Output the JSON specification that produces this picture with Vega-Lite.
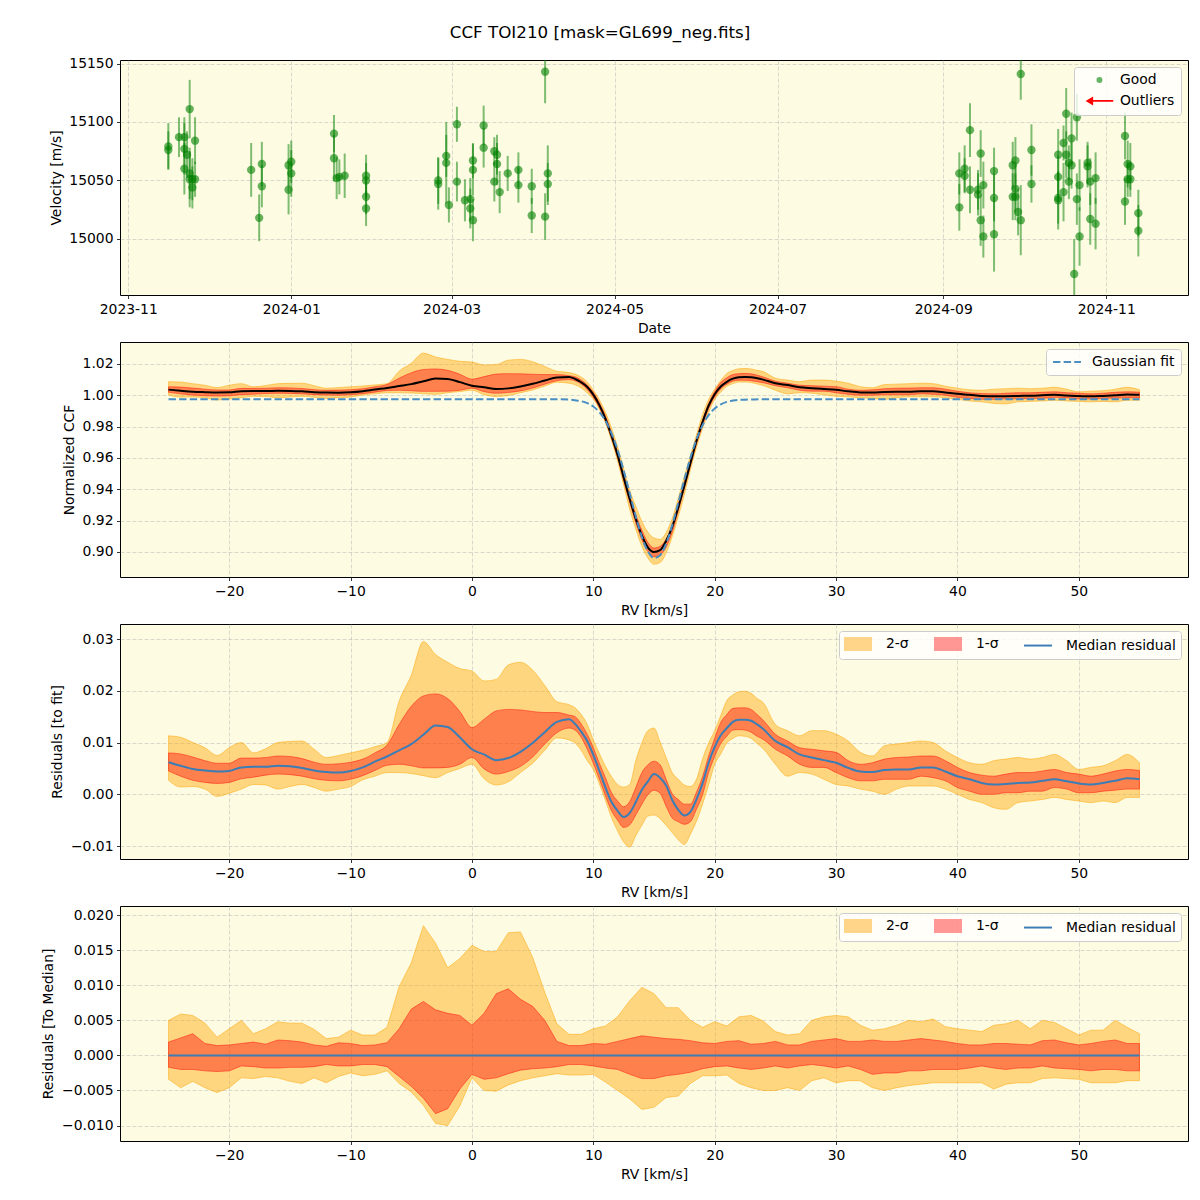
{
  "$schema": "https://vega.github.io/schema/vega-lite/v6.json",
  "padding": {"left": 41, "top": 25, "right": 5, "bottom": 5},
  "background": "white",
  "title": {"text": "CCF TOI210 [mask=GL699_neg.fits]", "fontSize": 16.7, "fontWeight": "normal", "font": "DejaVu Sans", "anchor": "middle", "offset": 14, "dx": -15, "color": "black"},
  "config": {
    "font": "DejaVu Sans",
    "view": {"fill": "#FDFBE2", "stroke": "black", "strokeWidth": 1},
    "axis": {"labelFont": "DejaVu Sans", "titleFont": "DejaVu Sans", "labelFontSize": 13.9, "titleFontSize": 13.9, "titleFontWeight": "normal", "labelColor": "black", "titleColor": "black", "tickColor": "black", "tickSize": 3.5, "tickWidth": 0.8, "labelPadding": 3.5, "titlePadding": 5.6, "domain": false, "grid": true, "gridColor": "#b0b0b0", "gridOpacity": 0.6, "gridDash": [4, 2], "gridWidth": 0.8, "labelFlush": false, "labelOverlap": false, "tickCount": 12},
    "legend": {"labelFont": "DejaVu Sans", "labelFontSize": 13.9, "labelColor": "black", "fillColor": "rgba(255,255,255,0.8)", "strokeColor": "#cccccc", "cornerRadius": 3, "orient": "top-right", "offset": 7, "padding": 6}
  },
  "datasets": {
    "rv": [
      {"d": "2023-11-16", "v": 15079, "e": 20}, {"d": "2023-11-16", "v": 15076, "e": 16}, {"d": "2023-11-20", "v": 15087, "e": 17},
      {"d": "2023-11-22", "v": 15077, "e": 22}, {"d": "2023-11-22", "v": 15087, "e": 17}, {"d": "2023-11-22", "v": 15060, "e": 22},
      {"d": "2023-11-23", "v": 15072, "e": 20}, {"d": "2023-11-24", "v": 15111, "e": 25}, {"d": "2023-11-24", "v": 15056, "e": 22},
      {"d": "2023-11-24", "v": 15051, "e": 24}, {"d": "2023-11-25", "v": 15051, "e": 18}, {"d": "2023-11-25", "v": 15044, "e": 18},
      {"d": "2023-11-26", "v": 15084, "e": 20}, {"d": "2023-11-26", "v": 15051, "e": 15},
      {"d": "2023-12-17", "v": 15059, "e": 23}, {"d": "2023-12-20", "v": 15018, "e": 20}, {"d": "2023-12-21", "v": 15064, "e": 19},
      {"d": "2023-12-21", "v": 15045, "e": 18}, {"d": "2023-12-31", "v": 15042, "e": 21}, {"d": "2023-12-31", "v": 15063, "e": 18},
      {"d": "2024-01-01", "v": 15056, "e": 20}, {"d": "2024-01-01", "v": 15066, "e": 18},
      {"d": "2024-01-17", "v": 15090, "e": 16}, {"d": "2024-01-17", "v": 15069, "e": 20}, {"d": "2024-01-18", "v": 15052, "e": 18},
      {"d": "2024-01-19", "v": 15053, "e": 15}, {"d": "2024-01-21", "v": 15054, "e": 19}, {"d": "2024-01-29", "v": 15054, "e": 18},
      {"d": "2024-01-29", "v": 15050, "e": 15}, {"d": "2024-01-29", "v": 15036, "e": 15}, {"d": "2024-01-29", "v": 15026, "e": 15},
      {"d": "2024-02-25", "v": 15050, "e": 20}, {"d": "2024-02-25", "v": 15047, "e": 22}, {"d": "2024-02-28", "v": 15071, "e": 18},
      {"d": "2024-02-28", "v": 15065, "e": 35}, {"d": "2024-02-29", "v": 15029, "e": 15}, {"d": "2024-03-03", "v": 15098, "e": 15},
      {"d": "2024-03-03", "v": 15049, "e": 17}, {"d": "2024-03-06", "v": 15033, "e": 18}, {"d": "2024-03-08", "v": 15034, "e": 18},
      {"d": "2024-03-08", "v": 15026, "e": 17}, {"d": "2024-03-09", "v": 15016, "e": 18}, {"d": "2024-03-09", "v": 15059, "e": 22},
      {"d": "2024-03-09", "v": 15067, "e": 15}, {"d": "2024-03-13", "v": 15097, "e": 17}, {"d": "2024-03-13", "v": 15078, "e": 17},
      {"d": "2024-03-17", "v": 15075, "e": 12}, {"d": "2024-03-18", "v": 15072, "e": 17}, {"d": "2024-03-18", "v": 15064, "e": 18},
      {"d": "2024-03-17", "v": 15049, "e": 17}, {"d": "2024-03-19", "v": 15040, "e": 18}, {"d": "2024-03-22", "v": 15056, "e": 15},
      {"d": "2024-03-26", "v": 15059, "e": 15}, {"d": "2024-03-26", "v": 15046, "e": 15}, {"d": "2024-03-31", "v": 15045, "e": 15},
      {"d": "2024-03-31", "v": 15020, "e": 15}, {"d": "2024-04-05", "v": 15143, "e": 27}, {"d": "2024-04-05", "v": 15019, "e": 20},
      {"d": "2024-04-06", "v": 15056, "e": 24}, {"d": "2024-04-06", "v": 15047, "e": 18},
      {"d": "2024-09-07", "v": 15056, "e": 18}, {"d": "2024-09-07", "v": 15027, "e": 20}, {"d": "2024-09-09", "v": 15060, "e": 20},
      {"d": "2024-09-09", "v": 15054, "e": 15}, {"d": "2024-09-11", "v": 15093, "e": 23}, {"d": "2024-09-11", "v": 15042, "e": 20},
      {"d": "2024-09-14", "v": 15042, "e": 17}, {"d": "2024-09-14", "v": 15038, "e": 18}, {"d": "2024-09-15", "v": 15073, "e": 20},
      {"d": "2024-09-15", "v": 15016, "e": 22}, {"d": "2024-09-16", "v": 15002, "e": 18}, {"d": "2024-09-16", "v": 15046, "e": 20},
      {"d": "2024-09-20", "v": 15004, "e": 32}, {"d": "2024-09-20", "v": 15058, "e": 20}, {"d": "2024-09-20", "v": 15035, "e": 20},
      {"d": "2024-09-27", "v": 15063, "e": 20}, {"d": "2024-09-28", "v": 15067, "e": 20}, {"d": "2024-09-27", "v": 15036, "e": 20},
      {"d": "2024-09-28", "v": 15036, "e": 20}, {"d": "2024-09-28", "v": 15043, "e": 20}, {"d": "2024-09-29", "v": 15023, "e": 20},
      {"d": "2024-09-30", "v": 15016, "e": 30}, {"d": "2024-09-30", "v": 15141, "e": 22}, {"d": "2024-10-04", "v": 15076, "e": 22},
      {"d": "2024-10-04", "v": 15047, "e": 16}, {"d": "2024-10-14", "v": 15053, "e": 18}, {"d": "2024-10-14", "v": 15033, "e": 25},
      {"d": "2024-10-14", "v": 15072, "e": 22}, {"d": "2024-10-14", "v": 15035, "e": 22}, {"d": "2024-10-16", "v": 15082, "e": 15},
      {"d": "2024-10-17", "v": 15107, "e": 22}, {"d": "2024-10-16", "v": 15040, "e": 25}, {"d": "2024-10-17", "v": 15072, "e": 20},
      {"d": "2024-10-18", "v": 15065, "e": 15}, {"d": "2024-10-18", "v": 15049, "e": 15}, {"d": "2024-10-19", "v": 15086, "e": 22},
      {"d": "2024-10-19", "v": 15063, "e": 20}, {"d": "2024-10-21", "v": 15104, "e": 20}, {"d": "2024-10-21", "v": 15034, "e": 22},
      {"d": "2024-10-20", "v": 14970, "e": 30}, {"d": "2024-10-22", "v": 15046, "e": 22}, {"d": "2024-10-22", "v": 15002, "e": 25},
      {"d": "2024-10-25", "v": 15065, "e": 18}, {"d": "2024-10-25", "v": 15062, "e": 18}, {"d": "2024-10-26", "v": 15049, "e": 20},
      {"d": "2024-10-26", "v": 15017, "e": 22}, {"d": "2024-10-28", "v": 15052, "e": 22}, {"d": "2024-10-28", "v": 15013, "e": 22},
      {"d": "2024-11-08", "v": 15088, "e": 20}, {"d": "2024-11-08", "v": 15032, "e": 20}, {"d": "2024-11-09", "v": 15064, "e": 20},
      {"d": "2024-11-10", "v": 15062, "e": 20}, {"d": "2024-11-09", "v": 15051, "e": 15}, {"d": "2024-11-10", "v": 15051, "e": 15},
      {"d": "2024-11-13", "v": 15022, "e": 20}, {"d": "2024-11-13", "v": 15007, "e": 22}
    ],
    "c": [
      {"rv": -25, "cm": 1.0036, "ca": 1.0001, "cb": 1.0019, "cc": 1.0054, "cd": 1.0087, "rm": 0.0062, "ra": 0.0027, "rb": 0.0045, "rc": 0.0080, "rd": 0.0113},
      {"rv": -24, "cm": 1.0029, "ca": 0.9988, "cb": 1.0009, "cc": 1.0052, "cd": 1.0084, "rm": 0.0055, "ra": 0.0014, "rb": 0.0035, "rc": 0.0078, "rd": 0.0110},
      {"rv": -23, "cm": 1.0023, "ca": 0.9989, "cb": 1.0001, "cc": 1.0046, "cd": 1.0074, "rm": 0.0049, "ra": 0.0015, "rb": 0.0027, "rc": 0.0072, "rd": 0.0100},
      {"rv": -22, "cm": 1.0020, "ca": 0.9984, "cb": 0.9997, "cc": 1.0039, "cd": 1.0064, "rm": 0.0046, "ra": 0.0010, "rb": 0.0023, "rc": 0.0065, "rd": 0.0090},
      {"rv": -21, "cm": 1.0018, "ca": 0.9970, "cb": 0.9995, "cc": 1.0034, "cd": 1.0049, "rm": 0.0044, "ra": -0.0004, "rb": 0.0021, "rc": 0.0060, "rd": 0.0075},
      {"rv": -20, "cm": 1.0019, "ca": 0.9976, "cb": 0.9997, "cc": 1.0034, "cd": 1.0064, "rm": 0.0045, "ra": 0.0002, "rb": 0.0023, "rc": 0.0060, "rd": 0.0090},
      {"rv": -19, "cm": 1.0026, "ca": 0.9984, "cb": 1.0004, "cc": 1.0044, "cd": 1.0074, "rm": 0.0052, "ra": 0.0010, "rb": 0.0030, "rc": 0.0070, "rd": 0.0100},
      {"rv": -18, "cm": 1.0027, "ca": 0.9993, "cb": 1.0007, "cc": 1.0044, "cd": 1.0054, "rm": 0.0053, "ra": 0.0019, "rb": 0.0033, "rc": 0.0070, "rd": 0.0080},
      {"rv": -17, "cm": 1.0027, "ca": 0.9992, "cb": 1.0011, "cc": 1.0045, "cd": 1.0062, "rm": 0.0053, "ra": 0.0018, "rb": 0.0037, "rc": 0.0071, "rd": 0.0088},
      {"rv": -16, "cm": 1.0029, "ca": 0.9984, "cb": 1.0013, "cc": 1.0048, "cd": 1.0074, "rm": 0.0055, "ra": 0.0010, "rb": 0.0039, "rc": 0.0074, "rd": 0.0100},
      {"rv": -15, "cm": 1.0028, "ca": 0.9989, "cb": 1.0012, "cc": 1.0047, "cd": 1.0076, "rm": 0.0054, "ra": 0.0015, "rb": 0.0038, "rc": 0.0073, "rd": 0.0102},
      {"rv": -14, "cm": 1.0025, "ca": 0.9993, "cb": 1.0009, "cc": 1.0043, "cd": 1.0077, "rm": 0.0051, "ra": 0.0019, "rb": 0.0035, "rc": 0.0069, "rd": 0.0103},
      {"rv": -13, "cm": 1.0020, "ca": 0.9987, "cb": 1.0004, "cc": 1.0036, "cd": 1.0061, "rm": 0.0046, "ra": 0.0013, "rb": 0.0030, "rc": 0.0062, "rd": 0.0087},
      {"rv": -12, "cm": 1.0017, "ca": 0.9980, "cb": 1.0001, "cc": 1.0032, "cd": 1.0045, "rm": 0.0043, "ra": 0.0006, "rb": 0.0027, "rc": 0.0058, "rd": 0.0071},
      {"rv": -11, "cm": 1.0016, "ca": 0.9984, "cb": 1.0000, "cc": 1.0033, "cd": 1.0049, "rm": 0.0042, "ra": 0.0010, "rb": 0.0026, "rc": 0.0059, "rd": 0.0075},
      {"rv": -10, "cm": 1.0019, "ca": 0.9989, "cb": 1.0003, "cc": 1.0036, "cd": 1.0054, "rm": 0.0045, "ra": 0.0015, "rb": 0.0029, "rc": 0.0062, "rd": 0.0080},
      {"rv": -9, "cm": 1.0026, "ca": 1.0002, "cb": 1.0010, "cc": 1.0042, "cd": 1.0059, "rm": 0.0052, "ra": 0.0028, "rb": 0.0036, "rc": 0.0068, "rd": 0.0085},
      {"rv": -8, "cm": 1.0037, "ca": 1.0009, "cb": 1.0020, "cc": 1.0054, "cd": 1.0066, "rm": 0.0063, "ra": 0.0035, "rb": 0.0046, "rc": 0.0080, "rd": 0.0092},
      {"rv": -7, "cm": 1.0047, "ca": 1.0016, "cb": 1.0030, "cc": 1.0069, "cd": 1.0074, "rm": 0.0073, "ra": 0.0042, "rb": 0.0056, "rc": 0.0095, "rd": 0.0100},
      {"rv": -6, "cm": 1.0059, "ca": 1.0016, "cb": 1.0032, "cc": 1.0109, "cd": 1.0154, "rm": 0.0085, "ra": 0.0042, "rb": 0.0058, "rc": 0.0135, "rd": 0.0180},
      {"rv": -5, "cm": 1.0071, "ca": 1.0014, "cb": 1.0029, "cc": 1.0144, "cd": 1.0204, "rm": 0.0097, "ra": 0.0040, "rb": 0.0055, "rc": 0.0170, "rd": 0.0230},
      {"rv": -4, "cm": 1.0089, "ca": 1.0010, "cb": 1.0025, "cc": 1.0164, "cd": 1.0269, "rm": 0.0115, "ra": 0.0036, "rb": 0.0051, "rc": 0.0190, "rd": 0.0295},
      {"rv": -3, "cm": 1.0107, "ca": 1.0006, "cb": 1.0025, "cc": 1.0168, "cd": 1.0244, "rm": 0.0133, "ra": 0.0032, "rb": 0.0051, "rc": 0.0194, "rd": 0.0270},
      {"rv": -2, "cm": 1.0104, "ca": 1.0016, "cb": 1.0026, "cc": 1.0159, "cd": 1.0229, "rm": 0.0130, "ra": 0.0042, "rb": 0.0052, "rc": 0.0185, "rd": 0.0255},
      {"rv": -1, "cm": 1.0084, "ca": 1.0024, "cb": 1.0032, "cc": 1.0134, "cd": 1.0217, "rm": 0.0110, "ra": 0.0050, "rb": 0.0058, "rc": 0.0160, "rd": 0.0243},
      {"rv": 0, "cm": 1.0061, "ca": 1.0032, "cb": 1.0045, "cc": 1.0103, "cd": 1.0212, "rm": 0.0087, "ra": 0.0058, "rb": 0.0071, "rc": 0.0129, "rd": 0.0238},
      {"rv": 1, "cm": 1.0051, "ca": 1.0004, "cb": 1.0023, "cc": 1.0119, "cd": 1.0193, "rm": 0.0077, "ra": 0.0030, "rb": 0.0049, "rc": 0.0145, "rd": 0.0219},
      {"rv": 2, "cm": 1.0040, "ca": 0.9992, "cb": 1.0013, "cc": 1.0135, "cd": 1.0196, "rm": 0.0066, "ra": 0.0018, "rb": 0.0039, "rc": 0.0161, "rd": 0.0222},
      {"rv": 3, "cm": 1.0044, "ca": 0.9998, "cb": 1.0018, "cc": 1.0138, "cd": 1.0224, "rm": 0.0070, "ra": 0.0024, "rb": 0.0044, "rc": 0.0164, "rd": 0.0250},
      {"rv": 4, "cm": 1.0056, "ca": 1.0016, "cb": 1.0028, "cc": 1.0137, "cd": 1.0229, "rm": 0.0082, "ra": 0.0042, "rb": 0.0054, "rc": 0.0163, "rd": 0.0255},
      {"rv": 5, "cm": 1.0073, "ca": 1.0034, "cb": 1.0046, "cc": 1.0134, "cd": 1.0214, "rm": 0.0099, "ra": 0.0060, "rb": 0.0072, "rc": 0.0160, "rd": 0.0240},
      {"rv": 6, "cm": 1.0094, "ca": 1.0059, "cb": 1.0071, "cc": 1.0132, "cd": 1.0184, "rm": 0.0120, "ra": 0.0085, "rb": 0.0097, "rc": 0.0158, "rd": 0.0210},
      {"rv": 7, "cm": 1.0114, "ca": 1.0083, "cb": 1.0093, "cc": 1.0132, "cd": 1.0153, "rm": 0.0140, "ra": 0.0109, "rb": 0.0119, "rc": 0.0158, "rd": 0.0179},
      {"rv": 8, "cm": 1.0117, "ca": 1.0077, "cb": 1.0100, "cc": 1.0125, "cd": 1.0145, "rm": 0.0145, "ra": 0.0105, "rb": 0.0128, "rc": 0.0153, "rd": 0.0173},
      {"rv": 8.5, "cm": 1.0104, "ca": 1.0067, "cb": 1.0092, "cc": 1.0118, "cd": 1.0135, "rm": 0.0136, "ra": 0.0099, "rb": 0.0124, "rc": 0.0150, "rd": 0.0167},
      {"rv": 9, "cm": 1.0083, "ca": 1.0047, "cb": 1.0072, "cc": 1.0098, "cd": 1.0116, "rm": 0.0121, "ra": 0.0085, "rb": 0.0110, "rc": 0.0136, "rd": 0.0154},
      {"rv": 9.5, "cm": 1.0053, "ca": 1.0015, "cb": 1.0037, "cc": 1.0066, "cd": 1.0085, "rm": 0.0103, "ra": 0.0065, "rb": 0.0087, "rc": 0.0116, "rd": 0.0135},
      {"rv": 10, "cm": 1.0004, "ca": 0.9976, "cb": 0.9988, "cc": 1.0018, "cd": 1.0033, "rm": 0.0076, "ra": 0.0048, "rb": 0.0060, "rc": 0.0090, "rd": 0.0105},
      {"rv": 10.5, "cm": 0.9937, "ca": 0.9912, "cb": 0.9921, "cc": 0.9952, "cd": 0.9971, "rm": 0.0045, "ra": 0.0020, "rb": 0.0029, "rc": 0.0060, "rd": 0.0079},
      {"rv": 11, "cm": 0.9850, "ca": 0.9825, "cb": 0.9834, "cc": 0.9869, "cd": 0.9891, "rm": 0.0013, "ra": -0.0012, "rb": -0.0003, "rc": 0.0032, "rd": 0.0054},
      {"rv": 11.5, "cm": 0.9742, "ca": 0.9712, "cb": 0.9725, "cc": 0.9760, "cd": 0.9791, "rm": -0.0015, "ra": -0.0045, "rb": -0.0032, "rc": 0.0003, "rd": 0.0034},
      {"rv": 12, "cm": 0.9619, "ca": 0.9580, "cb": 0.9601, "cc": 0.9638, "cd": 0.9670, "rm": -0.0032, "ra": -0.0071, "rb": -0.0050, "rc": -0.0013, "rd": 0.0019},
      {"rv": 12.5, "cm": 0.9476, "ca": 0.9428, "cb": 0.9456, "cc": 0.9496, "cd": 0.9534, "rm": -0.0044, "ra": -0.0092, "rb": -0.0064, "rc": -0.0024, "rd": 0.0014},
      {"rv": 13, "cm": 0.9338, "ca": 0.9272, "cb": 0.9315, "cc": 0.9360, "cd": 0.9393, "rm": -0.0036, "ra": -0.0102, "rb": -0.0059, "rc": -0.0014, "rd": 0.0019},
      {"rv": 13.5, "cm": 0.9211, "ca": 0.9146, "cb": 0.9186, "cc": 0.9239, "cd": 0.9291, "rm": -0.0015, "ra": -0.0080, "rb": -0.0040, "rc": 0.0013, "rd": 0.0065},
      {"rv": 14, "cm": 0.9105, "ca": 0.9036, "cb": 0.9077, "cc": 0.9138, "cd": 0.9195, "rm": 0.0009, "ra": -0.0060, "rb": -0.0019, "rc": 0.0042, "rd": 0.0099},
      {"rv": 14.5, "cm": 0.9028, "ca": 0.8961, "cb": 0.9002, "cc": 0.9060, "cd": 0.9126, "rm": 0.0025, "ra": -0.0042, "rb": -0.0001, "rc": 0.0057, "rd": 0.0123},
      {"rv": 15, "cm": 0.9000, "ca": 0.8921, "cb": 0.8969, "cc": 0.9025, "cd": 0.9089, "rm": 0.0039, "ra": -0.0040, "rb": 0.0008, "rc": 0.0064, "rd": 0.0128},
      {"rv": 15.5, "cm": 0.9011, "ca": 0.8932, "cb": 0.8981, "cc": 0.9036, "cd": 0.9080, "rm": 0.0032, "ra": -0.0047, "rb": 0.0002, "rc": 0.0057, "rd": 0.0101},
      {"rv": 16, "cm": 0.9070, "ca": 0.8993, "cb": 0.9030, "cc": 0.9082, "cd": 0.9124, "rm": 0.0017, "ra": -0.0060, "rb": -0.0023, "rc": 0.0029, "rd": 0.0071},
      {"rv": 16.5, "cm": 0.9160, "ca": 0.9097, "cb": 0.9125, "cc": 0.9172, "cd": 0.9213, "rm": -0.0011, "ra": -0.0074, "rb": -0.0046, "rc": 0.0001, "rd": 0.0042},
      {"rv": 17, "cm": 0.9284, "ca": 0.9226, "cb": 0.9261, "cc": 0.9304, "cd": 0.9343, "rm": -0.0030, "ra": -0.0088, "rb": -0.0053, "rc": -0.0010, "rd": 0.0029},
      {"rv": 17.5, "cm": 0.9422, "ca": 0.9366, "cb": 0.9405, "cc": 0.9444, "cd": 0.9481, "rm": -0.0041, "ra": -0.0097, "rb": -0.0058, "rc": -0.0019, "rd": 0.0018},
      {"rv": 18, "cm": 0.9567, "ca": 0.9524, "cb": 0.9548, "cc": 0.9582, "cd": 0.9616, "rm": -0.0034, "ra": -0.0077, "rb": -0.0053, "rc": -0.0019, "rd": 0.0015},
      {"rv": 18.5, "cm": 0.9708, "ca": 0.9666, "cb": 0.9689, "cc": 0.9722, "cd": 0.9747, "rm": -0.0010, "ra": -0.0052, "rb": -0.0029, "rc": 0.0004, "rd": 0.0029},
      {"rv": 19, "cm": 0.9829, "ca": 0.9789, "cb": 0.9807, "cc": 0.9842, "cd": 0.9876, "rm": 0.0021, "ra": -0.0019, "rb": -0.0001, "rc": 0.0034, "rd": 0.0068},
      {"rv": 19.5, "cm": 0.9934, "ca": 0.9891, "cb": 0.9915, "cc": 0.9947, "cd": 0.9972, "rm": 0.0061, "ra": 0.0018, "rb": 0.0042, "rc": 0.0074, "rd": 0.0099},
      {"rv": 20, "cm": 1.0007, "ca": 0.9974, "cb": 0.9989, "cc": 1.0024, "cd": 1.0039, "rm": 0.0091, "ra": 0.0058, "rb": 0.0073, "rc": 0.0108, "rd": 0.0123},
      {"rv": 20.5, "cm": 1.0056, "ca": 1.0020, "cb": 1.0040, "cc": 1.0081, "cd": 1.0094, "rm": 0.0114, "ra": 0.0078, "rb": 0.0098, "rc": 0.0139, "rd": 0.0152},
      {"rv": 21, "cm": 1.0086, "ca": 1.0057, "cb": 1.0070, "cc": 1.0112, "cd": 1.0139, "rm": 0.0128, "ra": 0.0099, "rb": 0.0112, "rc": 0.0154, "rd": 0.0181},
      {"rv": 21.5, "cm": 1.0106, "ca": 1.0074, "cb": 1.0090, "cc": 1.0132, "cd": 1.0158, "rm": 0.0140, "ra": 0.0108, "rb": 0.0124, "rc": 0.0166, "rd": 0.0192},
      {"rv": 22, "cm": 1.0115, "ca": 1.0084, "cb": 1.0096, "cc": 1.0138, "cd": 1.0169, "rm": 0.0144, "ra": 0.0113, "rb": 0.0125, "rc": 0.0167, "rd": 0.0198},
      {"rv": 22.5, "cm": 1.0116, "ca": 1.0084, "cb": 1.0096, "cc": 1.0139, "cd": 1.0171, "rm": 0.0144, "ra": 0.0112, "rb": 0.0124, "rc": 0.0167, "rd": 0.0199},
      {"rv": 23, "cm": 1.0115, "ca": 1.0081, "cb": 1.0093, "cc": 1.0137, "cd": 1.0168, "rm": 0.0142, "ra": 0.0108, "rb": 0.0120, "rc": 0.0164, "rd": 0.0195},
      {"rv": 23.5, "cm": 1.0109, "ca": 1.0072, "cb": 1.0086, "cc": 1.0128, "cd": 1.0159, "rm": 0.0135, "ra": 0.0098, "rb": 0.0112, "rc": 0.0154, "rd": 0.0185},
      {"rv": 24, "cm": 1.0100, "ca": 1.0062, "cb": 1.0080, "cc": 1.0117, "cd": 1.0151, "rm": 0.0126, "ra": 0.0088, "rb": 0.0106, "rc": 0.0143, "rd": 0.0177},
      {"rv": 25, "cm": 1.0077, "ca": 1.0032, "cb": 1.0061, "cc": 1.0090, "cd": 1.0109, "rm": 0.0103, "ra": 0.0058, "rb": 0.0087, "rc": 0.0116, "rd": 0.0135},
      {"rv": 26, "cm": 1.0065, "ca": 1.0009, "cb": 1.0048, "cc": 1.0077, "cd": 1.0097, "rm": 0.0091, "ra": 0.0035, "rb": 0.0074, "rc": 0.0103, "rd": 0.0123},
      {"rv": 27, "cm": 1.0051, "ca": 1.0016, "cb": 1.0032, "cc": 1.0064, "cd": 1.0087, "rm": 0.0077, "ra": 0.0042, "rb": 0.0058, "rc": 0.0090, "rd": 0.0113},
      {"rv": 28, "cm": 1.0045, "ca": 1.0013, "cb": 1.0026, "cc": 1.0061, "cd": 1.0097, "rm": 0.0071, "ra": 0.0039, "rb": 0.0052, "rc": 0.0087, "rd": 0.0123},
      {"rv": 29, "cm": 1.0040, "ca": 1.0003, "cb": 1.0026, "cc": 1.0058, "cd": 1.0097, "rm": 0.0066, "ra": 0.0029, "rb": 0.0052, "rc": 0.0084, "rd": 0.0123},
      {"rv": 30, "cm": 1.0035, "ca": 0.9993, "cb": 1.0016, "cc": 1.0055, "cd": 1.0090, "rm": 0.0061, "ra": 0.0019, "rb": 0.0042, "rc": 0.0081, "rd": 0.0116},
      {"rv": 31, "cm": 1.0025, "ca": 0.9990, "cb": 1.0006, "cc": 1.0039, "cd": 1.0077, "rm": 0.0051, "ra": 0.0016, "rb": 0.0032, "rc": 0.0065, "rd": 0.0103},
      {"rv": 32, "cm": 1.0018, "ca": 0.9984, "cb": 1.0000, "cc": 1.0032, "cd": 1.0055, "rm": 0.0044, "ra": 0.0010, "rb": 0.0026, "rc": 0.0058, "rd": 0.0081},
      {"rv": 33, "cm": 1.0017, "ca": 0.9980, "cb": 1.0000, "cc": 1.0035, "cd": 1.0048, "rm": 0.0043, "ra": 0.0006, "rb": 0.0026, "rc": 0.0061, "rd": 0.0074},
      {"rv": 34, "cm": 1.0021, "ca": 0.9974, "cb": 1.0003, "cc": 1.0042, "cd": 1.0068, "rm": 0.0047, "ra": 0.0000, "rb": 0.0029, "rc": 0.0068, "rd": 0.0094},
      {"rv": 35, "cm": 1.0022, "ca": 0.9984, "cb": 1.0003, "cc": 1.0045, "cd": 1.0071, "rm": 0.0048, "ra": 0.0010, "rb": 0.0029, "rc": 0.0071, "rd": 0.0097},
      {"rv": 36, "cm": 1.0022, "ca": 0.9990, "cb": 1.0003, "cc": 1.0046, "cd": 1.0074, "rm": 0.0048, "ra": 0.0016, "rb": 0.0029, "rc": 0.0072, "rd": 0.0100},
      {"rv": 37, "cm": 1.0026, "ca": 0.9990, "cb": 1.0009, "cc": 1.0048, "cd": 1.0077, "rm": 0.0052, "ra": 0.0016, "rb": 0.0035, "rc": 0.0074, "rd": 0.0103},
      {"rv": 38, "cm": 1.0026, "ca": 0.9990, "cb": 1.0006, "cc": 1.0048, "cd": 1.0074, "rm": 0.0052, "ra": 0.0016, "rb": 0.0032, "rc": 0.0074, "rd": 0.0100},
      {"rv": 39, "cm": 1.0018, "ca": 0.9984, "cb": 1.0000, "cc": 1.0039, "cd": 1.0058, "rm": 0.0044, "ra": 0.0010, "rb": 0.0026, "rc": 0.0065, "rd": 0.0084},
      {"rv": 40, "cm": 1.0009, "ca": 0.9974, "cb": 0.9987, "cc": 1.0026, "cd": 1.0045, "rm": 0.0035, "ra": 0.0000, "rb": 0.0013, "rc": 0.0052, "rd": 0.0071},
      {"rv": 41, "cm": 1.0003, "ca": 0.9964, "cb": 0.9980, "cc": 1.0016, "cd": 1.0035, "rm": 0.0029, "ra": -0.0010, "rb": 0.0006, "rc": 0.0042, "rd": 0.0061},
      {"rv": 42, "cm": 0.9996, "ca": 0.9958, "cb": 0.9974, "cc": 1.0011, "cd": 1.0032, "rm": 0.0022, "ra": -0.0016, "rb": 0.0000, "rc": 0.0037, "rd": 0.0058},
      {"rv": 43, "cm": 0.9993, "ca": 0.9948, "cb": 0.9974, "cc": 1.0009, "cd": 1.0039, "rm": 0.0019, "ra": -0.0026, "rb": 0.0000, "rc": 0.0035, "rd": 0.0065},
      {"rv": 44, "cm": 0.9994, "ca": 0.9945, "cb": 0.9977, "cc": 1.0013, "cd": 1.0042, "rm": 0.0020, "ra": -0.0029, "rb": 0.0003, "rc": 0.0039, "rd": 0.0068},
      {"rv": 45, "cm": 0.9996, "ca": 0.9958, "cb": 0.9977, "cc": 1.0016, "cd": 1.0045, "rm": 0.0022, "ra": -0.0016, "rb": 0.0003, "rc": 0.0042, "rd": 0.0071},
      {"rv": 46, "cm": 0.9997, "ca": 0.9961, "cb": 0.9980, "cc": 1.0016, "cd": 1.0042, "rm": 0.0023, "ra": -0.0013, "rb": 0.0006, "rc": 0.0042, "rd": 0.0068},
      {"rv": 47, "cm": 1.0000, "ca": 0.9964, "cb": 0.9980, "cc": 1.0019, "cd": 1.0045, "rm": 0.0026, "ra": -0.0010, "rb": 0.0006, "rc": 0.0045, "rd": 0.0071},
      {"rv": 48, "cm": 1.0003, "ca": 0.9968, "cb": 0.9987, "cc": 1.0022, "cd": 1.0051, "rm": 0.0029, "ra": -0.0006, "rb": 0.0013, "rc": 0.0048, "rd": 0.0077},
      {"rv": 49, "cm": 0.9999, "ca": 0.9964, "cb": 0.9984, "cc": 1.0016, "cd": 1.0039, "rm": 0.0025, "ra": -0.0010, "rb": 0.0010, "rc": 0.0042, "rd": 0.0065},
      {"rv": 50, "cm": 0.9995, "ca": 0.9961, "cb": 0.9977, "cc": 1.0013, "cd": 1.0022, "rm": 0.0021, "ra": -0.0013, "rb": 0.0003, "rc": 0.0039, "rd": 0.0048},
      {"rv": 51, "cm": 0.9993, "ca": 0.9958, "cb": 0.9977, "cc": 1.0009, "cd": 1.0026, "rm": 0.0019, "ra": -0.0016, "rb": 0.0003, "rc": 0.0035, "rd": 0.0052},
      {"rv": 52, "cm": 0.9996, "ca": 0.9961, "cb": 0.9980, "cc": 1.0013, "cd": 1.0029, "rm": 0.0022, "ra": -0.0013, "rb": 0.0006, "rc": 0.0039, "rd": 0.0055},
      {"rv": 53, "cm": 1.0000, "ca": 0.9958, "cb": 0.9982, "cc": 1.0019, "cd": 1.0039, "rm": 0.0026, "ra": -0.0016, "rb": 0.0008, "rc": 0.0045, "rd": 0.0065},
      {"rv": 54, "cm": 1.0005, "ca": 0.9968, "cb": 0.9984, "cc": 1.0022, "cd": 1.0051, "rm": 0.0031, "ra": -0.0006, "rb": 0.0010, "rc": 0.0048, "rd": 0.0077},
      {"rv": 55, "cm": 1.0003, "ca": 0.9968, "cb": 0.9984, "cc": 1.0020, "cd": 1.0035, "rm": 0.0029, "ra": -0.0006, "rb": 0.0010, "rc": 0.0046, "rd": 0.0061}
    ],
    "g": [
      {"rv": -25, "g": 0.9974}, {"rv": 6, "g": 0.9974}, {"rv": 7, "g": 0.9974}, {"rv": 8, "g": 0.9972}, {"rv": 8.5, "g": 0.9968},
      {"rv": 9, "g": 0.9962}, {"rv": 9.5, "g": 0.9950}, {"rv": 10, "g": 0.9928}, {"rv": 10.5, "g": 0.9892}, {"rv": 11, "g": 0.9837},
      {"rv": 11.5, "g": 0.9757}, {"rv": 12, "g": 0.9651}, {"rv": 12.5, "g": 0.9520}, {"rv": 13, "g": 0.9374}, {"rv": 13.5, "g": 0.9226},
      {"rv": 14, "g": 0.9096}, {"rv": 14.5, "g": 0.9003}, {"rv": 15, "g": 0.8961}, {"rv": 15.5, "g": 0.8979}, {"rv": 16, "g": 0.9053},
      {"rv": 16.5, "g": 0.9171}, {"rv": 17, "g": 0.9314}, {"rv": 17.5, "g": 0.9463}, {"rv": 18, "g": 0.9601}, {"rv": 18.5, "g": 0.9718},
      {"rv": 19, "g": 0.9808}, {"rv": 19.5, "g": 0.9873}, {"rv": 20, "g": 0.9916}, {"rv": 20.5, "g": 0.9942}, {"rv": 21, "g": 0.9958},
      {"rv": 21.5, "g": 0.9966}, {"rv": 22, "g": 0.9971}, {"rv": 22.5, "g": 0.9972}, {"rv": 23, "g": 0.9973}, {"rv": 24, "g": 0.9974},
      {"rv": 55, "g": 0.9974}
    ],
    "p4": [
      {"rv": -25, "a": -0.0034, "b": -0.0017, "c": 0.0019, "d": 0.0050}, {"rv": -24, "a": -0.0046, "b": -0.0020, "c": 0.0025, "d": 0.0059},
      {"rv": -23, "a": -0.0037, "b": -0.0020, "c": 0.0031, "d": 0.0057}, {"rv": -22, "a": -0.0046, "b": -0.0022, "c": 0.0017, "d": 0.0046},
      {"rv": -21, "a": -0.0053, "b": -0.0023, "c": 0.0014, "d": 0.0026}, {"rv": -20, "a": -0.0046, "b": -0.0022, "c": 0.0015, "d": 0.0038},
      {"rv": -19, "a": -0.0032, "b": -0.0015, "c": 0.0017, "d": 0.0050}, {"rv": -18, "a": -0.0033, "b": -0.0016, "c": 0.0019, "d": 0.0031},
      {"rv": -17, "a": -0.0030, "b": -0.0018, "c": 0.0016, "d": 0.0038}, {"rv": -16, "a": -0.0032, "b": -0.0018, "c": 0.0022, "d": 0.0048},
      {"rv": -15, "a": -0.0037, "b": -0.0017, "c": 0.0021, "d": 0.0046}, {"rv": -14, "a": -0.0040, "b": -0.0017, "c": 0.0019, "d": 0.0046},
      {"rv": -13, "a": -0.0032, "b": -0.0016, "c": 0.0015, "d": 0.0037}, {"rv": -12, "a": -0.0039, "b": -0.0013, "c": 0.0013, "d": 0.0024},
      {"rv": -11, "a": -0.0030, "b": -0.0015, "c": 0.0018, "d": 0.0026}, {"rv": -10, "a": -0.0025, "b": -0.0015, "c": 0.0017, "d": 0.0036},
      {"rv": -9, "a": -0.0029, "b": -0.0013, "c": 0.0014, "d": 0.0029}, {"rv": -8, "a": -0.0027, "b": -0.0013, "c": 0.0015, "d": 0.0029},
      {"rv": -7, "a": -0.0022, "b": -0.0016, "c": 0.0018, "d": 0.0040}, {"rv": -6, "a": -0.0040, "b": -0.0030, "c": 0.0038, "d": 0.0098},
      {"rv": -5, "a": -0.0052, "b": -0.0044, "c": 0.0066, "d": 0.0132}, {"rv": -4, "a": -0.0071, "b": -0.0061, "c": 0.0077, "d": 0.0185},
      {"rv": -3, "a": -0.0097, "b": -0.0083, "c": 0.0065, "d": 0.0160}, {"rv": -2, "a": -0.0100, "b": -0.0076, "c": 0.0060, "d": 0.0125},
      {"rv": -1, "a": -0.0072, "b": -0.0048, "c": 0.0057, "d": 0.0138}, {"rv": 0, "a": -0.0032, "b": -0.0027, "c": 0.0043, "d": 0.0157},
      {"rv": 1, "a": -0.0050, "b": -0.0034, "c": 0.0060, "d": 0.0148}, {"rv": 2, "a": -0.0051, "b": -0.0032, "c": 0.0088, "d": 0.0148},
      {"rv": 3, "a": -0.0042, "b": -0.0026, "c": 0.0095, "d": 0.0175}, {"rv": 4, "a": -0.0036, "b": -0.0021, "c": 0.0080, "d": 0.0176},
      {"rv": 5, "a": -0.0032, "b": -0.0019, "c": 0.0070, "d": 0.0140}, {"rv": 6, "a": -0.0029, "b": -0.0018, "c": 0.0050, "d": 0.0090},
      {"rv": 7, "a": -0.0026, "b": -0.0016, "c": 0.0020, "d": 0.0045}, {"rv": 8, "a": -0.0028, "b": -0.0013, "c": 0.0014, "d": 0.0030},
      {"rv": 9, "a": -0.0028, "b": -0.0013, "c": 0.0014, "d": 0.0030}, {"rv": 10, "a": -0.0027, "b": -0.0015, "c": 0.0017, "d": 0.0038},
      {"rv": 11, "a": -0.0038, "b": -0.0018, "c": 0.0016, "d": 0.0042}, {"rv": 12, "a": -0.0050, "b": -0.0020, "c": 0.0020, "d": 0.0055},
      {"rv": 13, "a": -0.0062, "b": -0.0027, "c": 0.0024, "d": 0.0078}, {"rv": 14, "a": -0.0077, "b": -0.0033, "c": 0.0028, "d": 0.0097},
      {"rv": 15, "a": -0.0074, "b": -0.0033, "c": 0.0026, "d": 0.0088}, {"rv": 16, "a": -0.0060, "b": -0.0029, "c": 0.0024, "d": 0.0068},
      {"rv": 17, "a": -0.0058, "b": -0.0027, "c": 0.0023, "d": 0.0068}, {"rv": 18, "a": -0.0040, "b": -0.0024, "c": 0.0021, "d": 0.0050},
      {"rv": 19, "a": -0.0029, "b": -0.0019, "c": 0.0018, "d": 0.0040}, {"rv": 20, "a": -0.0029, "b": -0.0016, "c": 0.0017, "d": 0.0048},
      {"rv": 21, "a": -0.0028, "b": -0.0015, "c": 0.0020, "d": 0.0042}, {"rv": 22, "a": -0.0040, "b": -0.0018, "c": 0.0021, "d": 0.0055},
      {"rv": 23, "a": -0.0046, "b": -0.0020, "c": 0.0016, "d": 0.0057}, {"rv": 24, "a": -0.0050, "b": -0.0018, "c": 0.0017, "d": 0.0049},
      {"rv": 25, "a": -0.0050, "b": -0.0015, "c": 0.0020, "d": 0.0034}, {"rv": 26, "a": -0.0046, "b": -0.0018, "c": 0.0015, "d": 0.0029},
      {"rv": 27, "a": -0.0050, "b": -0.0015, "c": 0.0015, "d": 0.0031}, {"rv": 28, "a": -0.0036, "b": -0.0013, "c": 0.0020, "d": 0.0050},
      {"rv": 29, "a": -0.0032, "b": -0.0015, "c": 0.0022, "d": 0.0055}, {"rv": 30, "a": -0.0039, "b": -0.0018, "c": 0.0024, "d": 0.0057},
      {"rv": 31, "a": -0.0036, "b": -0.0015, "c": 0.0020, "d": 0.0055}, {"rv": 32, "a": -0.0036, "b": -0.0020, "c": 0.0020, "d": 0.0043},
      {"rv": 33, "a": -0.0046, "b": -0.0027, "c": 0.0022, "d": 0.0036}, {"rv": 34, "a": -0.0050, "b": -0.0025, "c": 0.0020, "d": 0.0038},
      {"rv": 35, "a": -0.0046, "b": -0.0025, "c": 0.0020, "d": 0.0043}, {"rv": 36, "a": -0.0043, "b": -0.0022, "c": 0.0022, "d": 0.0050},
      {"rv": 37, "a": -0.0041, "b": -0.0022, "c": 0.0024, "d": 0.0048}, {"rv": 38, "a": -0.0039, "b": -0.0020, "c": 0.0022, "d": 0.0052},
      {"rv": 39, "a": -0.0039, "b": -0.0020, "c": 0.0020, "d": 0.0041}, {"rv": 40, "a": -0.0039, "b": -0.0020, "c": 0.0017, "d": 0.0038},
      {"rv": 41, "a": -0.0039, "b": -0.0018, "c": 0.0015, "d": 0.0036}, {"rv": 42, "a": -0.0039, "b": -0.0015, "c": 0.0015, "d": 0.0034},
      {"rv": 43, "a": -0.0048, "b": -0.0018, "c": 0.0017, "d": 0.0043}, {"rv": 44, "a": -0.0041, "b": -0.0020, "c": 0.0017, "d": 0.0045},
      {"rv": 45, "a": -0.0039, "b": -0.0018, "c": 0.0016, "d": 0.0050}, {"rv": 46, "a": -0.0039, "b": -0.0018, "c": 0.0015, "d": 0.0038},
      {"rv": 47, "a": -0.0033, "b": -0.0015, "c": 0.0021, "d": 0.0050}, {"rv": 48, "a": -0.0032, "b": -0.0018, "c": 0.0022, "d": 0.0047},
      {"rv": 49, "a": -0.0033, "b": -0.0019, "c": 0.0018, "d": 0.0038}, {"rv": 50, "a": -0.0034, "b": -0.0020, "c": 0.0015, "d": 0.0029},
      {"rv": 51, "a": -0.0039, "b": -0.0022, "c": 0.0017, "d": 0.0036}, {"rv": 52, "a": -0.0039, "b": -0.0020, "c": 0.0020, "d": 0.0036},
      {"rv": 53, "a": -0.0039, "b": -0.0020, "c": 0.0022, "d": 0.0050}, {"rv": 54, "a": -0.0036, "b": -0.0022, "c": 0.0017, "d": 0.0040},
      {"rv": 55, "a": -0.0036, "b": -0.0022, "c": 0.0017, "d": 0.0031}
    ],
    "z": [{"rv": -25, "m": 0}, {"rv": 55, "m": 0}]
  },
  "spacing": 47,
  "bounds": "flush",
  "resolve": {"scale": {"color": "independent", "shape": "independent", "fill": "independent", "stroke": "independent", "x": "independent", "y": "independent"}, "legend": {"color": "independent", "shape": "independent"}},
  "vconcat": [
    {
      "width": 1068, "height": 235,
      "data": {"name": "rv"},
      "encoding": {
        "x": {"field": "d", "type": "temporal", "title": "Date",
          "scale": {"type": "utc", "domain": [{"year": 2023, "month": 10, "date": 28, "hours": 22, "utc": true}, {"year": 2024, "month": 12, "date": 1, "hours": 14, "utc": true}]},
          "axis": {"title": "Date", "format": "%Y-%m", "values": [
            {"year": 2023, "month": 11, "date": 1, "utc": true}, {"year": 2024, "month": 1, "date": 1, "utc": true}, {"year": 2024, "month": 3, "date": 1, "utc": true},
            {"year": 2024, "month": 5, "date": 1, "utc": true}, {"year": 2024, "month": 7, "date": 1, "utc": true}, {"year": 2024, "month": 9, "date": 1, "utc": true},
            {"year": 2024, "month": 11, "date": 1, "utc": true}]}},
        "y": {"field": "v", "type": "quantitative", "title": "Velocity [m/s]",
          "scale": {"domain": [14952, 15153], "nice": false, "zero": false},
          "axis": {"title": "Velocity [m/s]", "values": [15000, 15050, 15100, 15150], "format": "d"}}
      },
      "layer": [
        {"mark": {"type": "errorbar", "color": "green", "opacity": 0.5, "thickness": 2, "clip": true},
         "encoding": {"yError": {"field": "e"}}},
        {"mark": {"type": "point", "filled": true, "size": 70, "opacity": 0.6, "color": "green", "clip": true}},
        {"mark": {"type": "point", "filled": true, "opacity": 0, "clip": true},
         "encoding": {
           "color": {"datum": "Good", "type": "nominal",
             "scale": {"domain": ["Good", "Outliers"], "range": ["#66b566", "red"]},
             "legend": {"title": null, "symbolSize": 36, "symbolOpacity": 1, "rowPadding": 6, "labelOffset": 13.5, "symbolOffset": 12.5, "padding": 6}},
           "shape": {"datum": "Good", "type": "nominal",
             "scale": {"domain": ["Good", "Outliers"], "range": ["circle", "M4.6,-0.3L-2.1,-0.3L-2.1,-1.5L-4.6,0L-2.1,1.5L-2.1,0.3L4.6,0.3Z"]},
             "legend": {"title": null, "symbolSize": 36, "symbolOpacity": 1, "rowPadding": 6, "labelOffset": 13.5, "symbolOffset": 12.5, "padding": 6}}}}
      ]
    },
    {
      "width": 1068, "height": 235,
      "data": {"name": "c"},
      "encoding": {"x": {"field": "rv", "type": "quantitative", "title": "RV [km/s]",
        "scale": {"domain": [-29, 59], "nice": false, "zero": false},
        "axis": {"title": "RV [km/s]", "values": [-20, -10, 0, 10, 20, 30, 40, 50], "format": "d"}}},
      "layer": [
        {"mark": {"type": "area", "color": "rgba(255,165,0,0.43)", "stroke": "rgba(255,165,0,0.5)", "strokeWidth": 1, "opacity": 1, "interpolate": "monotone"},
         "encoding": {"y": {"field": "ca", "type": "quantitative", "title": "Normalized CCF",
           "scale": {"domain": [0.884, 1.034], "nice": false, "zero": false},
           "axis": {"title": "Normalized CCF", "values": [0.90, 0.92, 0.94, 0.96, 0.98, 1.00, 1.02], "format": ".2f", "tickCount": 12}},
           "y2": {"field": "cd"}}},
        {"mark": {"type": "area", "color": "rgba(255,0,0,0.4)", "stroke": "rgba(255,0,0,0.45)", "strokeWidth": 1, "opacity": 1, "interpolate": "monotone"},
         "encoding": {"y": {"field": "cb", "type": "quantitative", "title": "Normalized CCF"}, "y2": {"field": "cc"}}},
        {"mark": {"type": "line", "color": "black", "strokeWidth": 2, "interpolate": "monotone"},
         "encoding": {"y": {"field": "cm", "type": "quantitative", "title": "Normalized CCF"}}},
        {"data": {"name": "g"},
         "mark": {"type": "line", "strokeWidth": 2, "strokeDash": [7.4, 3.2], "interpolate": "monotone"},
         "encoding": {"y": {"field": "g", "type": "quantitative", "title": "Normalized CCF"},
           "color": {"datum": "Gaussian fit", "type": "nominal", "scale": {"domain": ["Gaussian fit"], "range": ["#4a8fc4"]},
             "legend": {"title": null, "symbolType": "M-2.33,0L2.33,0", "symbolSize": 144, "symbolStrokeWidth": 2, "symbolDash": [7.4, 3.2], "labelOffset": 18, "symbolOffset": 8, "padding": 6}}}}
      ]
    },
    {
      "width": 1068, "height": 235,
      "data": {"name": "c"},
      "encoding": {"x": {"field": "rv", "type": "quantitative", "title": "RV [km/s]",
        "scale": {"domain": [-29, 59], "nice": false, "zero": false},
        "axis": {"title": "RV [km/s]", "values": [-20, -10, 0, 10, 20, 30, 40, 50], "format": "d"}}},
      "layer": [
        {"mark": {"type": "area", "stroke": "rgba(255,165,0,0.5)", "strokeWidth": 1, "opacity": 1, "interpolate": "monotone"},
         "encoding": {"y": {"field": "ra", "type": "quantitative", "title": "Residuals [to fit]",
           "scale": {"domain": [-0.0125, 0.0329], "nice": false, "zero": false},
           "axis": {"title": "Residuals [to fit]", "values": [-0.01, 0, 0.01, 0.02, 0.03], "format": ".2f", "tickCount": 12}},
           "y2": {"field": "rd"},
           "fill": {"datum": "2-σ", "type": "nominal",
             "scale": {"domain": ["2-σ", "1-σ"], "range": ["rgba(255,165,0,0.43)", "rgba(255,0,0,0.4)"]},
             "legend": null}}},
        {"mark": {"type": "area", "stroke": "rgba(255,0,0,0.45)", "strokeWidth": 1, "opacity": 1, "interpolate": "monotone"},
         "encoding": {"y": {"field": "rb", "type": "quantitative", "title": "Residuals [to fit]"}, "y2": {"field": "rc"},
           "fill": {"datum": "1-σ", "type": "nominal", "legend": null}}},
        {"mark": {"type": "line", "strokeWidth": 2, "color": "#3b7db5", "interpolate": "monotone"},
         "encoding": {"y": {"field": "rm", "type": "quantitative", "title": "Residuals [to fit]"}}},
        {"data": {"name": "z"},
         "mark": {"type": "point", "filled": true, "opacity": 0},
         "encoding": {"y": {"field": "m", "type": "quantitative", "title": "Residuals [to fit]"},
           "color": {"datum": "2-σ", "type": "nominal",
             "scale": {"domain": ["2-σ", "1-σ", "Median residual"], "range": ["rgba(255,165,0,0.45)", "rgba(255,0,0,0.4)", "#3b7db5"]},
             "legend": {"title": null, "direction": "horizontal", "symbolSize": 196, "symbolOpacity": 1, "columnPadding": 22, "labelOffset": 20, "symbolOffset": 6, "padding": 5}},
           "shape": {"datum": "2-σ", "type": "nominal",
             "scale": {"domain": ["2-σ", "1-σ", "Median residual"], "range": ["M-2,-1L2,-1L2,1L-2,1Z", "M-2,-1L2,-1L2,1L-2,1Z", "M-2,-0.14L2,-0.14L2,0.14L-2,0.14Z"]},
             "legend": {"title": null, "direction": "horizontal", "symbolSize": 196, "symbolOpacity": 1, "columnPadding": 22, "labelOffset": 20, "symbolOffset": 6, "padding": 5}}}}
      ]
    },
    {
      "width": 1068, "height": 235,
      "data": {"name": "p4"},
      "encoding": {"x": {"field": "rv", "type": "quantitative", "title": "RV [km/s]",
        "scale": {"domain": [-29, 59], "nice": false, "zero": false},
        "axis": {"title": "RV [km/s]", "values": [-20, -10, 0, 10, 20, 30, 40, 50], "format": "d"}}},
      "layer": [
        {"mark": {"type": "area", "stroke": "rgba(255,165,0,0.5)", "strokeWidth": 1, "opacity": 1},
         "encoding": {"y": {"field": "a", "type": "quantitative", "title": "Residuals [To Median]",
           "scale": {"domain": [-0.0122, 0.0213], "nice": false, "zero": false},
           "axis": {"title": "Residuals [To Median]", "values": [-0.01, -0.005, 0, 0.005, 0.01, 0.015, 0.02], "format": ".3f", "tickCount": 12}},
           "y2": {"field": "d"},
           "fill": {"datum": "2-σ", "type": "nominal",
             "scale": {"domain": ["2-σ", "1-σ"], "range": ["rgba(255,165,0,0.43)", "rgba(255,0,0,0.4)"]},
             "legend": null}}},
        {"mark": {"type": "area", "stroke": "rgba(255,0,0,0.45)", "strokeWidth": 1, "opacity": 1},
         "encoding": {"y": {"field": "b", "type": "quantitative", "title": "Residuals [To Median]"}, "y2": {"field": "c"},
           "fill": {"datum": "1-σ", "type": "nominal", "legend": null}}},
        {"data": {"name": "z"},
         "mark": {"type": "line", "strokeWidth": 2, "color": "#3b7db5"},
         "encoding": {"y": {"field": "m", "type": "quantitative", "title": "Residuals [To Median]"}}},
        {"data": {"name": "z"},
         "mark": {"type": "point", "filled": true, "opacity": 0},
         "encoding": {"y": {"field": "m", "type": "quantitative", "title": "Residuals [To Median]"},
           "color": {"datum": "2-σ", "type": "nominal",
             "scale": {"domain": ["2-σ", "1-σ", "Median residual"], "range": ["rgba(255,165,0,0.45)", "rgba(255,0,0,0.4)", "#3b7db5"]},
             "legend": {"title": null, "direction": "horizontal", "symbolSize": 196, "symbolOpacity": 1, "columnPadding": 22, "labelOffset": 20, "symbolOffset": 6, "padding": 5}},
           "shape": {"datum": "2-σ", "type": "nominal",
             "scale": {"domain": ["2-σ", "1-σ", "Median residual"], "range": ["M-2,-1L2,-1L2,1L-2,1Z", "M-2,-1L2,-1L2,1L-2,1Z", "M-2,-0.14L2,-0.14L2,0.14L-2,0.14Z"]},
             "legend": {"title": null, "direction": "horizontal", "symbolSize": 196, "symbolOpacity": 1, "columnPadding": 22, "labelOffset": 20, "symbolOffset": 6, "padding": 5}}}}
      ]
    }
  ]
}
